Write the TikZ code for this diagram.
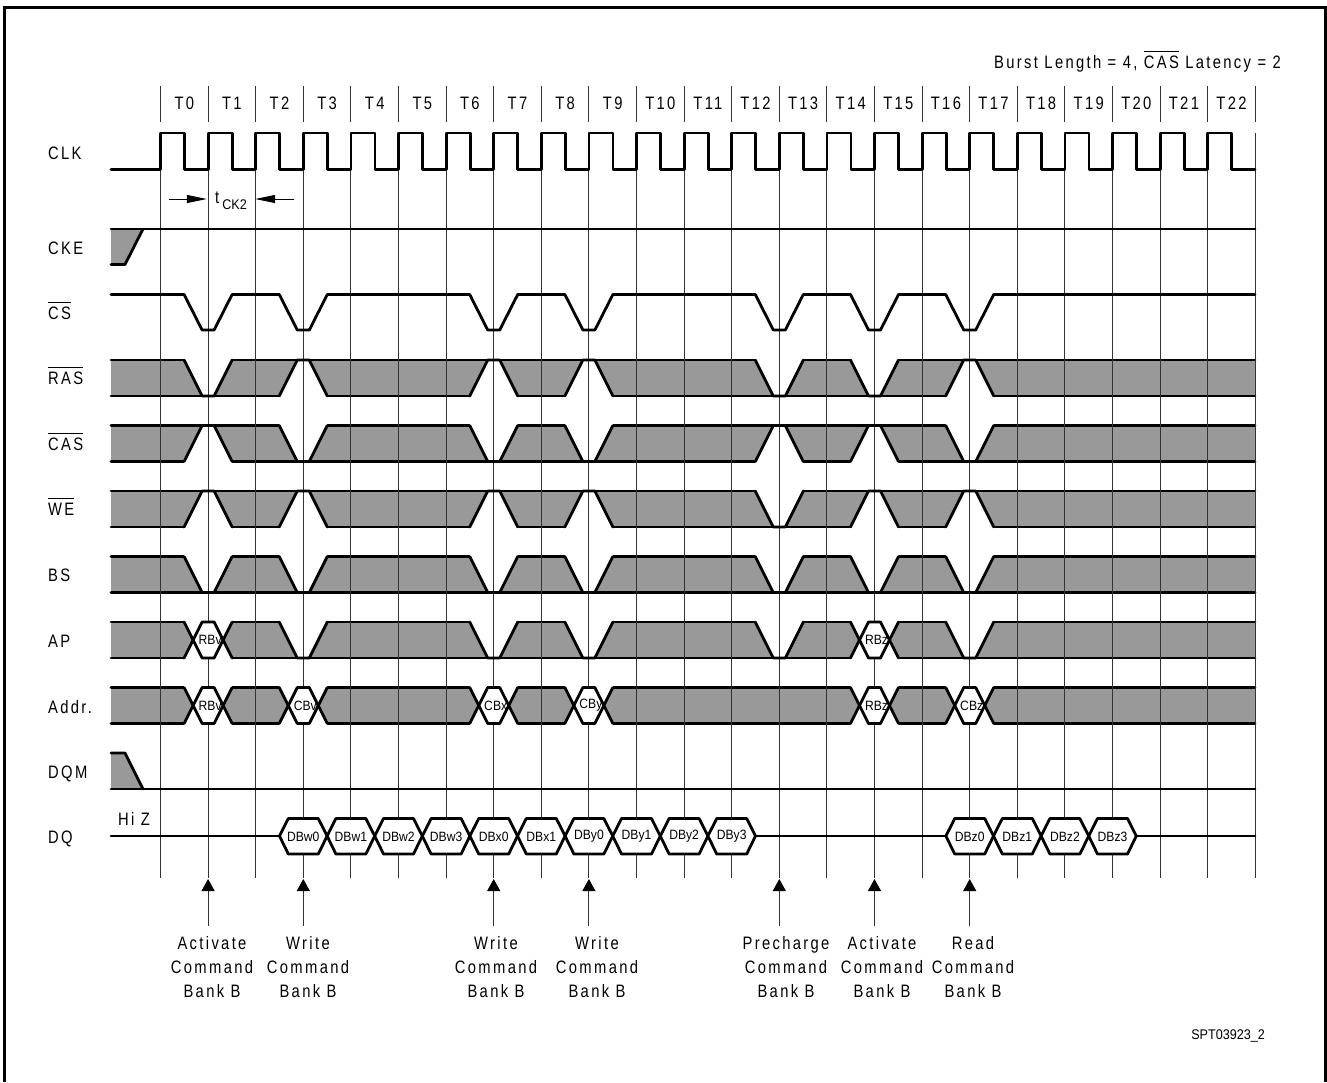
\documentclass[tikz,border=0pt]{standalone}
\usepackage{fontspec}
\usepackage{xcolor}
\usetikzlibrary{arrows.meta}
\setmainfont[FakeStretch=0.82,LetterSpace=13]{Liberation Sans}
\newfontfamily\smallfont[FakeStretch=0.9]{Liberation Sans}
\definecolor{busgray}{RGB}{153, 153, 153}
\newcommand{\lownotches}{360/1,360/13,360/15,
    425.5/3,425.5/7,425.5/9,425.5/17, 491/13,
    556.5/1,556.5/3,556.5/7,556.5/9,556.5/13,556.5/15,556.5/17,
    622/3,622/7,622/9,622/13,622/17}
\newcommand{\highnotches}{360/3,360/7,360/9,360/17,
    425.5/1,425.5/13,425.5/15,
    491/1,491/3,491/7,491/9,491/15,491/17}
\newcommand{\sigbar}[1]{$\overline{\mbox{\rule{0pt}{15pt}#1}}$}

\begin{document}
\begin{tikzpicture}[
    x=1pt, y=-1pt,
    every node/.style={inner sep=0pt, font=\fontsize{18}{24}\selectfont},
    wave/.style={line width=2.8pt, line join=round, line cap=round},
    gridline/.style={line width=1pt, black!80},
    siglabel/.style={anchor=base west},
    hexlabel/.style={font=\smallfont\fontsize{13.5}{15}\selectfont},
    cmdlabel/.style={anchor=north, align=center},
    cmdarrow/.style={line width=1pt, black!80, -{Triangle[length=12pt,width=13pt,color=black]}, shorten <=10pt},
    ckarrow/.style={line width=1pt, -{Triangle[length=20pt,width=8pt]}}
]
\useasboundingbox (0,0) rectangle (1327,1082);

% Frame, open at the bottom
\draw[line width=3pt, line join=miter] (4.5,1082) -- (4.5,7.5) -- (1325,7.5) -- (1325,1082);

% Gray bus bands with their two rails
\foreach \ytop in {360,425.5,491,556.5,622,687.5} {
    \fill[busgray] (111,\ytop) rectangle (1255,\ytop+36);
    \draw[wave] (111,\ytop) -- (1255,\ytop);
    \draw[wave] (111,\ytop+36) -- (1255,\ytop+36);
}

% White gaps
\foreach \ytop/\i [evaluate=\i as \gx using 160.5+47.6*\i] in \lownotches
    \fill[white] (\gx-24,\ytop-2) -- (\gx-24,\ytop) -- (\gx-6,\ytop+36) -- (\gx+6,\ytop+36) -- (\gx+24,\ytop) -- (\gx+24,\ytop-2) -- cycle;
\foreach \ytop/\i [evaluate=\i as \gx using 160.5+47.6*\i] in \highnotches
    \fill[white] (\gx-24,\ytop+38) -- (\gx-24,\ytop+36) -- (\gx-6,\ytop) -- (\gx+6,\ytop) -- (\gx+24,\ytop+36) -- (\gx+24,\ytop+38) -- cycle;
\foreach \ytop/\i [evaluate=\i as \gx using 160.5+47.6*\i] in {622/1,622/15,687.5/1,687.5/3,687.5/7,687.5/9,687.5/15,687.5/17}
    \fill[white] (\gx-24,\ytop-2) -- (\gx+24,\ytop-2) -- (\gx+24,\ytop) -- (\gx+15,\ytop+18) -- (\gx+24,\ytop+36) -- (\gx+24,\ytop+38) -- (\gx-24,\ytop+38) -- (\gx-24,\ytop+36) -- (\gx-15,\ytop+18) -- (\gx-24,\ytop) -- cycle;
\fill[busgray] (111,229) -- (143,229) -- (125,264.5) -- (111,264.5) -- cycle;
\fill[busgray] (111,753) -- (125,753) -- (143,789) -- (111,789) -- cycle;

% Clock grid
\foreach \i [evaluate=\i as \gx using 160.5+47.6*\i] in {0,...,23} {
    \draw[gridline] (\gx,86) -- (\gx,122);
    \draw[gridline] (\gx,133) -- (\gx,878);
}
\foreach \i [evaluate=\i as \gx using 184.3+47.6*\i] in {0,...,22}
    \node[anchor=base] (t\i) at (\gx,109) {T\i};

% Signal names
\node[siglabel] (clk) at (48,159) {CLK};
\node[siglabel] (cke) at (48,254) {CKE};
\node[siglabel] (cs) at (48,319) {\sigbar{CS}};
\node[siglabel] (ras) at (48,384) {\sigbar{RAS}};
\node[siglabel] (cas) at (48,450) {\sigbar{CAS}};
\node[siglabel] (we) at (48,515) {\sigbar{WE}};
\node[siglabel] (bs) at (48,581) {BS};
\node[siglabel] (ap) at (48,647) {AP};
\node[siglabel] (addr) at (48,713) {Addr.};
\node[siglabel] (dqm) at (48,778) {DQM};
\node[siglabel] (dq) at (48,843) {DQ};
\node[siglabel] (hiz) at (118,825) {Hi Z};
\node[anchor=base east] (burst) at (1281,68) {Burst Length = 4, \sigbar{CAS} Latency = 2};
\node[anchor=base east, font=\smallfont\fontsize{14}{16}\selectfont] (figid) at (1265,1039) {SPT03923\_2};

% Clock period
\node[minimum width=48pt] (tck) at (231,201) {t\,\raisebox{-6pt}{\smallfont\fontsize{14}{16}\selectfont CK2}};
\coordinate (ckleft) at (169,199);
\coordinate (ckright) at (294,199);
\draw[ckarrow] (ckleft) -- (ckleft -| tck.west);
\draw[ckarrow] (ckright) -- (ckright -| tck.east);

% Clock and single lines
\draw[wave] (111,169.5) \foreach \i [evaluate=\i as \gx using 160.5+47.6*\i] in {0,...,22} {
    -- (\gx,169.5) -- (\gx,133) -- (\gx+24,133) -- (\gx+24,169.5)
} -- (1255,169.5);
\draw[wave] (111,229) -- (1255,229);
\draw[wave] (111,264.5) -- (125,264.5) -- (143,229);
\draw[wave] (111,753) -- (125,753) -- (143,789);
\draw[wave] (111,789) -- (1255,789);
\draw[wave] (111,294.5) \foreach \i [evaluate=\i as \gx using 160.5+47.6*\i] in {1,3,7,9,13,15,17} {
    -- (\gx-24,294.5) -- (\gx-6,330) -- (\gx+6,330) -- (\gx+24,294.5)
} -- (1255,294.5);

% Bus edges
\foreach \ytop/\i [evaluate=\i as \gx using 160.5+47.6*\i] in \lownotches
    \draw[wave] (\gx-24,\ytop) -- (\gx-6,\ytop+36) -- (\gx+6,\ytop+36) -- (\gx+24,\ytop);
\foreach \ytop/\i [evaluate=\i as \gx using 160.5+47.6*\i] in \highnotches
    \draw[wave] (\gx-24,\ytop+36) -- (\gx-6,\ytop) -- (\gx+6,\ytop) -- (\gx+24,\ytop+36);

% Bus values
\foreach \ytop/\i/\val [evaluate=\i as \gx using 160.5+47.6*\i] in {622/1/RBv,622/15/RBz,687.5/1/RBv,687.5/3/CBv,687.5/7/CBx,687.5/9/CBy,687.5/15/RBz,687.5/17/CBz} {
    \fill[white] (\gx-15,\ytop+18) -- (\gx-6,\ytop) -- (\gx+6,\ytop) -- (\gx+15,\ytop+18) -- (\gx+6,\ytop+36) -- (\gx-6,\ytop+36) -- cycle;
    \node[hexlabel] (val\i-\ytop) at (\gx+2,\ytop+18) {\val};
    \draw[wave] (\gx-24,\ytop) -- (\gx-6,\ytop+36) -- (\gx+6,\ytop+36) -- (\gx+24,\ytop);
    \draw[wave] (\gx-24,\ytop+36) -- (\gx-6,\ytop) -- (\gx+6,\ytop) -- (\gx+24,\ytop+36);
}

% DQ data
\draw[wave] (111,836) -- (279.5,836);
\draw[wave] (755.5,836) -- (945,836);
\draw[wave] (1136,836) -- (1255,836);
\foreach \i/\val [evaluate=\i as \gx using 160.5+47.6*\i] in {3/DBw0,4/DBw1,5/DBw2,6/DBw3,7/DBx0,8/DBx1,9/DBy0,10/DBy1,11/DBy2,12/DBy3,17/DBz0,18/DBz1,19/DBz2,20/DBz3} {
    \draw[wave, fill=white] (\gx-23.8,836) -- (\gx-15,818.5) -- (\gx+15,818.5) -- (\gx+23.8,836) -- (\gx+15,854) -- (\gx-15,854) -- cycle;
    \node[hexlabel] (data\i) at (\gx,836.5) {\val};
}

% Commands
\foreach \i/\cx/\txt [evaluate=\i as \gx using 160.5+47.6*\i] in {
    1/212/{Activate\\Command\\Bank B}, 3/308/{Write\\Command\\Bank B},
    7/496/{Write\\Command\\Bank B}, 9/597/{Write\\Command\\Bank B},
    13/786/{Precharge\\Command\\Bank B}, 15/882/{Activate\\Command\\Bank B},
    17/973/{Read\\Command\\Bank B}} {
    \node[cmdlabel] (cmd\i) at (\cx,936) {\txt};
    \coordinate (tip\i) at (\gx,879);
    \draw[cmdarrow] (tip\i |- cmd\i.north) -- (tip\i);
}
\end{tikzpicture}
\end{document}
